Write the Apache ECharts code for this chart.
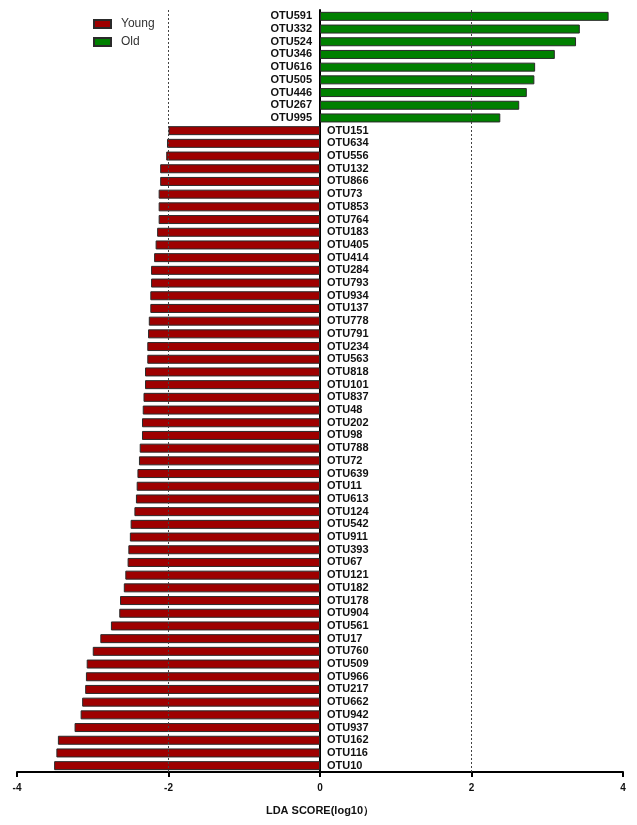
<!DOCTYPE html>
<html>
<head>
<meta charset="utf-8">
<style>
  html, body { margin: 0; padding: 0; background: #ffffff; }
  #chart { width: 637px; height: 825px; }
</style>
<script src="https://cdn.jsdelivr.net/npm/echarts@6/dist/echarts.min.js"></script>
</head>
<body>
<div id="chart"></div>
<script>
// LDA effect sizes (log10) of discriminating OTUs per age group
const oldNames = ['OTU591', 'OTU332', 'OTU524', 'OTU346', 'OTU616', 'OTU505', 'OTU446', 'OTU267', 'OTU995'];
const oldScores = [3.81, 3.43, 3.38, 3.10, 2.84, 2.83, 2.73, 2.63, 2.38];

const youngNames = ['OTU151', 'OTU634', 'OTU556', 'OTU132', 'OTU866', 'OTU73', 'OTU853', 'OTU764', 'OTU183',
  'OTU405', 'OTU414', 'OTU284', 'OTU793', 'OTU934', 'OTU137', 'OTU778', 'OTU791', 'OTU234', 'OTU563',
  'OTU818', 'OTU101', 'OTU837', 'OTU48', 'OTU202', 'OTU98', 'OTU788', 'OTU72', 'OTU639', 'OTU11',
  'OTU613', 'OTU124', 'OTU542', 'OTU911', 'OTU393', 'OTU67', 'OTU121', 'OTU182', 'OTU178', 'OTU904',
  'OTU561', 'OTU17', 'OTU760', 'OTU509', 'OTU966', 'OTU217', 'OTU662', 'OTU942', 'OTU937', 'OTU162',
  'OTU116', 'OTU10'];
const youngScores = [-2.00, -2.02, -2.03, -2.11, -2.11, -2.13, -2.13, -2.13, -2.15,
  -2.17, -2.19, -2.23, -2.23, -2.24, -2.24, -2.26, -2.27, -2.28, -2.28,
  -2.31, -2.31, -2.33, -2.34, -2.35, -2.35, -2.38, -2.39, -2.41, -2.42,
  -2.43, -2.45, -2.50, -2.51, -2.53, -2.54, -2.57, -2.59, -2.64, -2.65,
  -2.76, -2.90, -3.00, -3.08, -3.09, -3.10, -3.14, -3.16, -3.24, -3.46,
  -3.48, -3.51];

const xTicks = [-4, -2, 0, 2, 4];
const dashedRefs = [-2, 2];

const categories = oldNames.concat(youngNames);
const oldSeries = oldScores.concat(youngNames.map(() => null));
const youngSeries = oldNames.map(() => null).concat(youngScores);

const FONT = '"Liberation Sans", Arial, Helvetica, sans-serif';

const chart = echarts.init(document.getElementById('chart'), null, { renderer: 'canvas' });

chart.setOption({
  animation: false,
  backgroundColor: '#ffffff',
  textStyle: { fontFamily: FONT },
  legend: {
    orient: 'vertical',
    left: 93,
    top: 18,
    padding: 0,
    itemWidth: 17,
    itemHeight: 8,
    itemGap: 6,
    icon: 'rect',
    data: ['Young', 'Old'],
    textStyle: { fontFamily: FONT, fontSize: 12, color: '#333333', padding: [0, 0, 0, 5] }
  },
  grid: { left: 17, right: 14, top: 10, bottom: 53, containLabel: false },
  xAxis: {
    type: 'value',
    min: xTicks[0],
    max: xTicks[xTicks.length - 1],
    interval: 2,
    name: 'LDA SCORE(log10）',
    nameLocation: 'middle',
    nameGap: 33,
    nameTextStyle: { fontFamily: FONT, fontSize: 11, fontWeight: 'bold', color: '#111111' },
    axisLine: { show: true, onZero: false, lineStyle: { color: '#000000', width: 2 } },
    axisTick: { show: true, length: 5, lineStyle: { color: '#000000', width: 2 } },
    axisLabel: { fontFamily: FONT, fontSize: 10, fontWeight: 'bold', color: '#111111', margin: 11 },
    splitLine: { show: false }
  },
  yAxis: {
    type: 'category',
    inverse: true,
    data: categories,
    axisLine: { show: true, onZero: true, lineStyle: { color: '#000000', width: 2 } },
    axisTick: { show: false },
    axisLabel: { show: false },
    splitLine: { show: false }
  },
  series: [
    {
      name: 'Young',
      type: 'bar',
      data: youngSeries,
      barWidth: 9,
      barGap: '-100%',
      itemStyle: { color: '#9E0000', borderColor: '#2a2a2a', borderWidth: 1 },
      label: {
        show: true,
        position: 'right',
        distance: 7,
        formatter: '{b}',
        fontFamily: FONT,
        fontSize: 11,
        fontWeight: 'bold',
        color: '#111111'
      },
      z: 3
    },
    {
      name: 'Old',
      type: 'bar',
      data: oldSeries,
      barWidth: 9,
      barGap: '-100%',
      itemStyle: { color: '#008000', borderColor: '#2a2a2a', borderWidth: 1 },
      label: {
        show: true,
        position: 'left',
        distance: 8,
        formatter: '{b}',
        fontFamily: FONT,
        fontSize: 11,
        fontWeight: 'bold',
        color: '#111111'
      },
      markLine: {
        silent: true,
        symbol: 'none',
        label: { show: false },
        lineStyle: { color: '#444444', width: 1, type: [2, 2] },
        data: dashedRefs.map(v => ({ xAxis: v }))
      },
      z: 3
    }
  ]
});
</script>
</body>
</html>
